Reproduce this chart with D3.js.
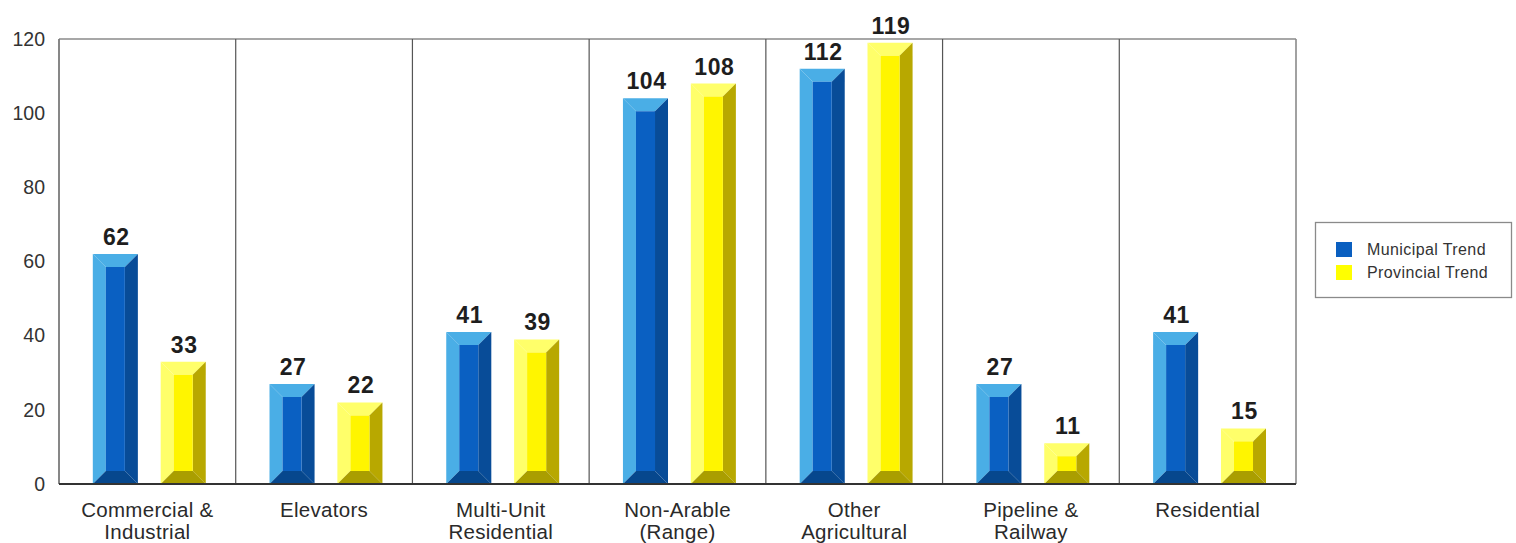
<!DOCTYPE html>
<html>
<head>
<meta charset="utf-8">
<script src="https://cdn.jsdelivr.net/npm/d3@7/dist/d3.min.js"></script>
<style>
  html, body { margin: 0; padding: 0; background: #fff; }
  svg { display: block; }
  text { font-family: "Liberation Sans", Arial, sans-serif; }
</style>
</head>
<body>
<svg id="chart" width="1516" height="543"></svg>
<script>
// ---- data ----
const categories = [
  ["Commercial &", "Industrial"],
  ["Elevators"],
  ["Multi-Unit", "Residential"],
  ["Non-Arable", "(Range)"],
  ["Other", "Agricultural"],
  ["Pipeline &", "Railway"],
  ["Residential"]
];
const seriesNames = ["Municipal Trend", "Provincial Trend"];
const municipal = [62, 27, 41, 104, 112, 27, 41];
const provincial = [33, 22, 39, 108, 119, 11, 15];
const yTicks = [0, 20, 40, 60, 80, 100, 120];

// ---- styles ----
const palettes = [
  { light: "#4aaee6", front: "#0a60c2", right: "#084c98", bottom: "#06478d", swatch: "#0a5fc0" },
  { light: "#ffff6a", front: "#fff500", right: "#b8a800", bottom: "#aa9e00", swatch: "#ffff00" }
];

const svg = d3.select("#chart");
const plotL = 59, plotR = 1296, plotT = 39, plotB = 484;

const x = d3.scaleBand().domain(d3.range(categories.length)).range([plotL, plotR]).padding(0);
const xs = d3.scaleBand().domain(d3.range(seriesNames.length)).range([0, x.bandwidth()])
  .paddingInner(0.336).paddingOuter(0.47).align(0.53);
const y = d3.scaleLinear().domain([0, 120]).range([plotB, plotT]);

// frame
const g = svg.append("g");
g.append("line").attr("x1", plotL).attr("x2", plotR).attr("y1", plotT).attr("y2", plotT)
  .attr("stroke", "#8a8a8a").attr("stroke-width", 1.6);
g.append("line").attr("x1", plotL).attr("x2", plotL).attr("y1", plotT).attr("y2", plotB)
  .attr("stroke", "#7a7a7a").attr("stroke-width", 1.8);
g.append("line").attr("x1", plotR).attr("x2", plotR).attr("y1", plotT).attr("y2", plotB)
  .attr("stroke", "#8a8a8a").attr("stroke-width", 1.6);
// category dividers
g.selectAll("line.div").data(d3.range(1, categories.length)).join("line")
  .attr("class", "div")
  .attr("x1", d => x(d)).attr("x2", d => x(d))
  .attr("y1", plotT).attr("y2", plotB)
  .attr("stroke", "#555").attr("stroke-width", 1.2);

// y axis labels
const yAxis = d3.axisLeft(y).tickValues(yTicks).tickSize(0).tickPadding(14);
const ya = svg.append("g").attr("transform", `translate(${plotL},0)`).call(yAxis);
ya.select(".domain").remove();
ya.selectAll("text").attr("font-size", 19.5).attr("fill", "#333")
  .attr("font-family", "Liberation Sans, Arial, sans-serif");

// bars
const d = 13;
function bevel(x0, x1, yT, yB, pal, gg) {
  const dd = Math.min(d, (yB - yT) / 3);
  const poly = (pts, fill) => gg.append("polygon").attr("points", pts.map(p => p.join(",")).join(" ")).attr("fill", fill);
  poly([[x0, yT], [x1, yT], [x1 - dd, yT + dd], [x0 + dd, yT + dd]], pal.light);
  poly([[x0, yT], [x0 + dd, yT + dd], [x0 + dd, yB - dd], [x0, yB]], pal.light);
  poly([[x1, yT], [x1, yB], [x1 - dd, yB - dd], [x1 - dd, yT + dd]], pal.right);
  poly([[x0, yB], [x1, yB], [x1 - dd, yB - dd], [x0 + dd, yB - dd]], pal.bottom);
  poly([[x0 + dd, yT + dd], [x1 - dd, yT + dd], [x1 - dd, yB - dd], [x0 + dd, yB - dd]], pal.front);
}

const allSeries = [municipal, provincial];
const barsG = svg.append("g");
categories.forEach((c, i) => {
  allSeries.forEach((vals, s) => {
    const v = vals[i];
    const x0 = x(i) + xs(s);
    const x1 = x0 + xs.bandwidth();
    const yT = y(v), yB = y(0);
    bevel(x0, x1, yT, yB, palettes[s], barsG);
    barsG.append("text")
      .attr("x", (x0 + x1) / 2 + 1)
      .attr("y", yT - 9)
      .attr("text-anchor", "middle")
      .attr("font-size", 23)
      .attr("font-weight", "bold")
      .attr("letter-spacing", 0.6)
      .attr("fill", "#1e1e1e")
      .text(v);
  });
});

// x axis line
svg.append("line").attr("x1", plotL).attr("x2", plotR).attr("y1", plotB).attr("y2", plotB)
  .attr("stroke", "#333").attr("stroke-width", 1.8);

// x labels
const xl = svg.append("g");
categories.forEach((lines, i) => {
  const t = xl.append("text")
    .attr("x", x(i) + x.bandwidth() / 2)
    .attr("y", 517)
    .attr("text-anchor", "middle")
    .attr("font-size", 20.5)
    .attr("letter-spacing", 0.3)
    .attr("fill", "#2a2a2a");
  lines.forEach((ln, k) => {
    t.append("tspan").attr("x", x(i) + x.bandwidth() / 2).attr("dy", k === 0 ? 0 : 22).text(ln);
  });
});

// legend
const lg = svg.append("g");
lg.append("rect").attr("x", 1315.5).attr("y", 222.5).attr("width", 196).attr("height", 75)
  .attr("fill", "#fff").attr("stroke", "#8a8a8a").attr("stroke-width", 1.3);
seriesNames.forEach((n, s) => {
  lg.append("rect").attr("x", 1336).attr("y", 242 + s * 23).attr("width", 16).attr("height", 15)
    .attr("fill", palettes[s].swatch);
  lg.append("text").attr("x", 1367).attr("y", 255 + s * 22.5)
    .attr("font-size", 16).attr("letter-spacing", 0.4).attr("fill", "#333").text(n);
});
</script>
</body>
</html>
